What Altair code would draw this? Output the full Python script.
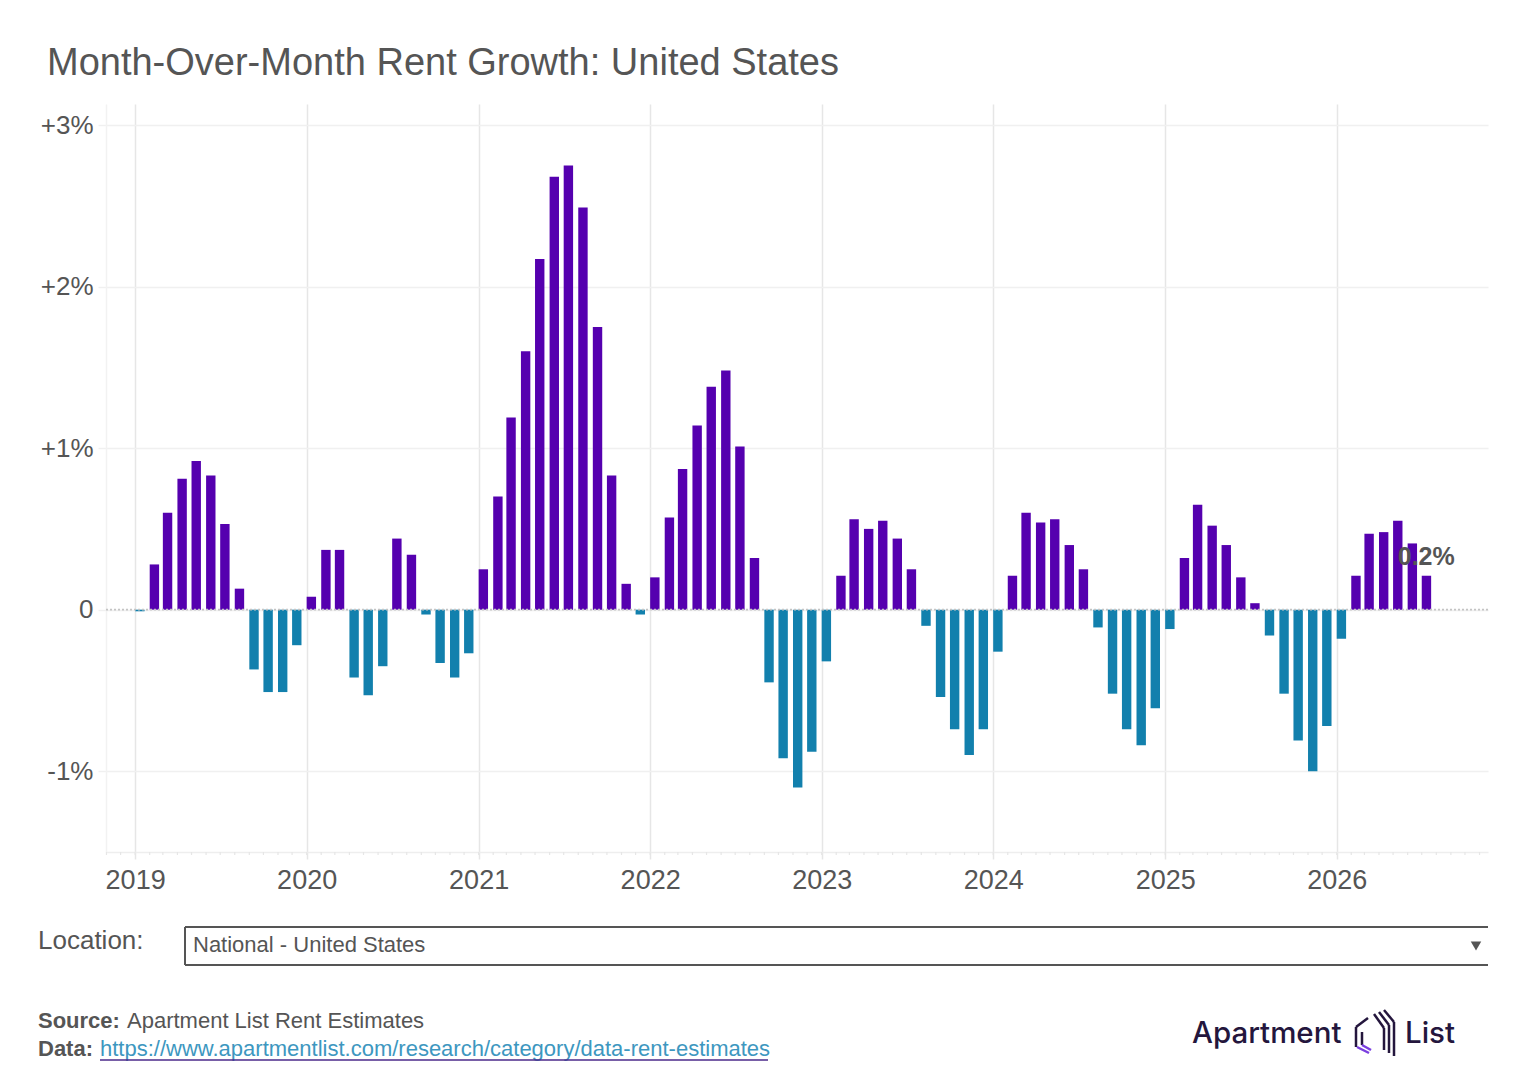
import altair as alt
import pandas as pd

# ---- data (percent month-over-month change), Jan 2019 .. Jul 2026 ----
growth_2019 = [-0.01, 0.28, 0.60, 0.81, 0.92, 0.83, 0.53, 0.13, -0.37, -0.51, -0.51, -0.22]
growth_2020 = [0.08, 0.37, 0.37, -0.42, -0.53, -0.35, 0.44, 0.34, -0.03, -0.33, -0.42, -0.27]
growth_2021 = [0.25, 0.70, 1.19, 1.60, 2.17, 2.68, 2.75, 2.49, 1.75, 0.83, 0.16, -0.03]
growth_2022 = [0.20, 0.57, 0.87, 1.14, 1.38, 1.48, 1.01, 0.32, -0.45, -0.92, -1.10, -0.88]
growth_2023 = [-0.32, 0.21, 0.56, 0.50, 0.55, 0.44, 0.25, -0.10, -0.54, -0.74, -0.90, -0.74]
growth_2024 = [-0.26, 0.21, 0.60, 0.54, 0.56, 0.40, 0.25, -0.11, -0.52, -0.74, -0.84, -0.61]
growth_2025 = [-0.12, 0.32, 0.65, 0.52, 0.40, 0.20, 0.04, -0.16, -0.52, -0.81, -1.00, -0.72]
growth_2026 = [-0.18, 0.21, 0.47, 0.48, 0.55, 0.41, 0.21]

values = (growth_2019 + growth_2020 + growth_2021 + growth_2022 + growth_2023
          + growth_2024 + growth_2025 + growth_2026)
months = pd.date_range("2019-01-01", periods=len(values), freq="MS").strftime("%Y-%m-%d").tolist()
year_ticks = list(range(2019, 2027))
y_ticks = [-1, 0, 1, 2, 3]
minor_months = pd.date_range("2018-11-01", "2026-11-01", freq="MS").strftime("%Y-%m-%d").tolist()

df = pd.DataFrame({"date": months, "value": values})
last = df.tail(1)
minor_df = pd.DataFrame({"date": minor_months})
zero_df = pd.DataFrame({"y": [0]})
dummy = pd.DataFrame({"a": [0]})

PURPLE = "#5500AF"
BLUE = "#1280AD"
GRAY = "#555555"
FONT = "Liberation Sans"
W, H = 1382, 748

x_scale = alt.Scale(
    type="utc",
    domain=[alt.DateTime(year=2018, month=10, date=31, utc=True),
            alt.DateTime(year=2026, month=11, date=19, utc=True)],
    nice=False, padding=0,
)
y_scale = alt.Scale(domain=[-1.5, 3.13], nice=False, zero=False)

x_axis = alt.Axis(
    values=[alt.DateTime(year=y, month=1, date=1, utc=True) for y in year_ticks],
    format="%Y", title=None, grid=True, gridColor="#e6e6e6", gridWidth=1.5,
    domainColor="#eeeeee", domainWidth=1.5, tickColor="#e6e6e6", tickWidth=1.5,
    tickSize=7, labelFontSize=27, labelColor=GRAY, labelFont=FONT, labelPadding=8,
)
y_axis = alt.Axis(
    values=y_ticks, title=None, grid=True, gridColor="#f0f0f0", gridWidth=1.5,
    domainColor="#f2f2f2", domainWidth=1.5, tickColor="#f0f0f0", tickWidth=1.5,
    tickSize=8, labelFontSize=26, labelColor=GRAY, labelFont=FONT, labelPadding=5,
    labelExpr="datum.value > 0 ? '+' + datum.value + '%' : (datum.value == 0 ? '0' : datum.value + '%')",
)

bars = alt.Chart(df).mark_bar(width=9.4, xOffset=4.7).encode(
    x=alt.X("date:T", scale=x_scale, axis=x_axis),
    y=alt.Y("value:Q", scale=y_scale, axis=y_axis),
    color=alt.condition("datum.value >= 0", alt.value(PURPLE), alt.value(BLUE)),
)

minor = alt.Chart(minor_df).mark_rule(color="#e6e6e6", strokeWidth=1.2).encode(
    x=alt.X("date:T", scale=x_scale),
    y=alt.value(H), y2=alt.value(H + 3),
)

zero = alt.Chart(zero_df).mark_rule(color="#c4c4c4", strokeWidth=1.6, strokeDash=[2, 2]).encode(
    y=alt.Y("y:Q", scale=y_scale),
)

last_label = alt.Chart(last).transform_calculate(
    label="format(datum.value, '.1f') + '%'"
).mark_text(dx=4.5, dy=-19, fontSize=25, fontWeight="bold", color=GRAY, font=FONT,
            align="center", baseline="middle").encode(
    x=alt.X("date:T", scale=x_scale),
    y=alt.Y("value:Q", scale=y_scale),
    text="label:N",
)


def txt(s, x, y, size, color=GRAY, weight="normal", font=FONT, align="left"):
    return alt.Chart(dummy).mark_text(
        align=align, baseline="middle", fontSize=size, fontWeight=weight,
        color=color, font=font,
    ).encode(x=alt.value(x), y=alt.value(y), text=alt.value(s))


def seg(x1, y1, x2, y2, color="#555555", width=1.5):
    return alt.Chart(dummy).mark_rule(color=color, strokeWidth=width).encode(
        x=alt.value(x1), y=alt.value(y1), x2=alt.value(x2), y2=alt.value(y2)
    )


# location selector (drawn)
location = [
    txt("Location:", -68, 837, 26),
    seg(79, 823, W, 823, width=2),
    seg(79, 861, W, 861, width=2),
    seg(79, 823, 79, 861, width=2),
    txt("National - United States", 87, 841, 22),
    alt.Chart(dummy).mark_point(shape="triangle-down", filled=True, size=110, color=GRAY, opacity=1).encode(
        x=alt.value(1370), y=alt.value(842)),
]

# footer
footer = [
    txt("Source:", -68, 917, 22, weight="bold"),
    txt("Apartment List Rent Estimates", 21, 917, 22),
    txt("Data:", -68, 945, 22, weight="bold"),
    txt("https://www.apartmentlist.com/research/category/data-rent-estimates", -6, 945, 22, color="#3d97c0"),
    seg(-6, 956, 662, 956, color="#4B2A8A", width=1.6),
]

# logo
NAVY = "#24163d"
logo = [
    txt("Apartment", 1086, 930, 29.5, color=NAVY, font="Inter", weight=500),
    txt("List", 1299, 930, 29.5, color=NAVY, font="Inter", weight=500),
    seg(1250, 923, 1250, 943, color=NAVY, width=2.5),
    seg(1250, 923, 1262, 914, color=NAVY, width=2.5),
    seg(1256, 928, 1256, 941, color=NAVY, width=2.5),
    seg(1251, 943, 1263, 949, color="#7b3fe0", width=2.5),
    seg(1256, 941, 1265, 946, color="#7b3fe0", width=2.5),
    seg(1268, 910, 1278, 924, color=NAVY, width=2.5),
    seg(1278, 924, 1278, 946, color=NAVY, width=2.5),
    seg(1273, 908, 1283, 921, color=NAVY, width=2.5),
    seg(1283, 921, 1283, 949, color=NAVY, width=2.5),
    seg(1278, 906, 1288, 918, color=NAVY, width=2.5),
    seg(1288, 918, 1288, 952, color=NAVY, width=2.5),
]

chart = alt.layer(minor, bars, zero, last_label, *location, *footer, *logo).properties(
    width=W, height=H,
    background="white",
    autosize=alt.AutoSizeParams(type="none"),
    padding={"left": 98, "top": 96, "right": 28, "bottom": 214},
    title=alt.TitleParams(
        text="Month-Over-Month Rent Growth: United States",
        anchor="start", frame="group", dx=-59, offset=21,
        fontSize=38, font=FONT, fontWeight="normal", color=GRAY,
    ),
).configure_view(stroke=None)

chart.save("out.html", embed_options={"renderer": "svg", "actions": False})
